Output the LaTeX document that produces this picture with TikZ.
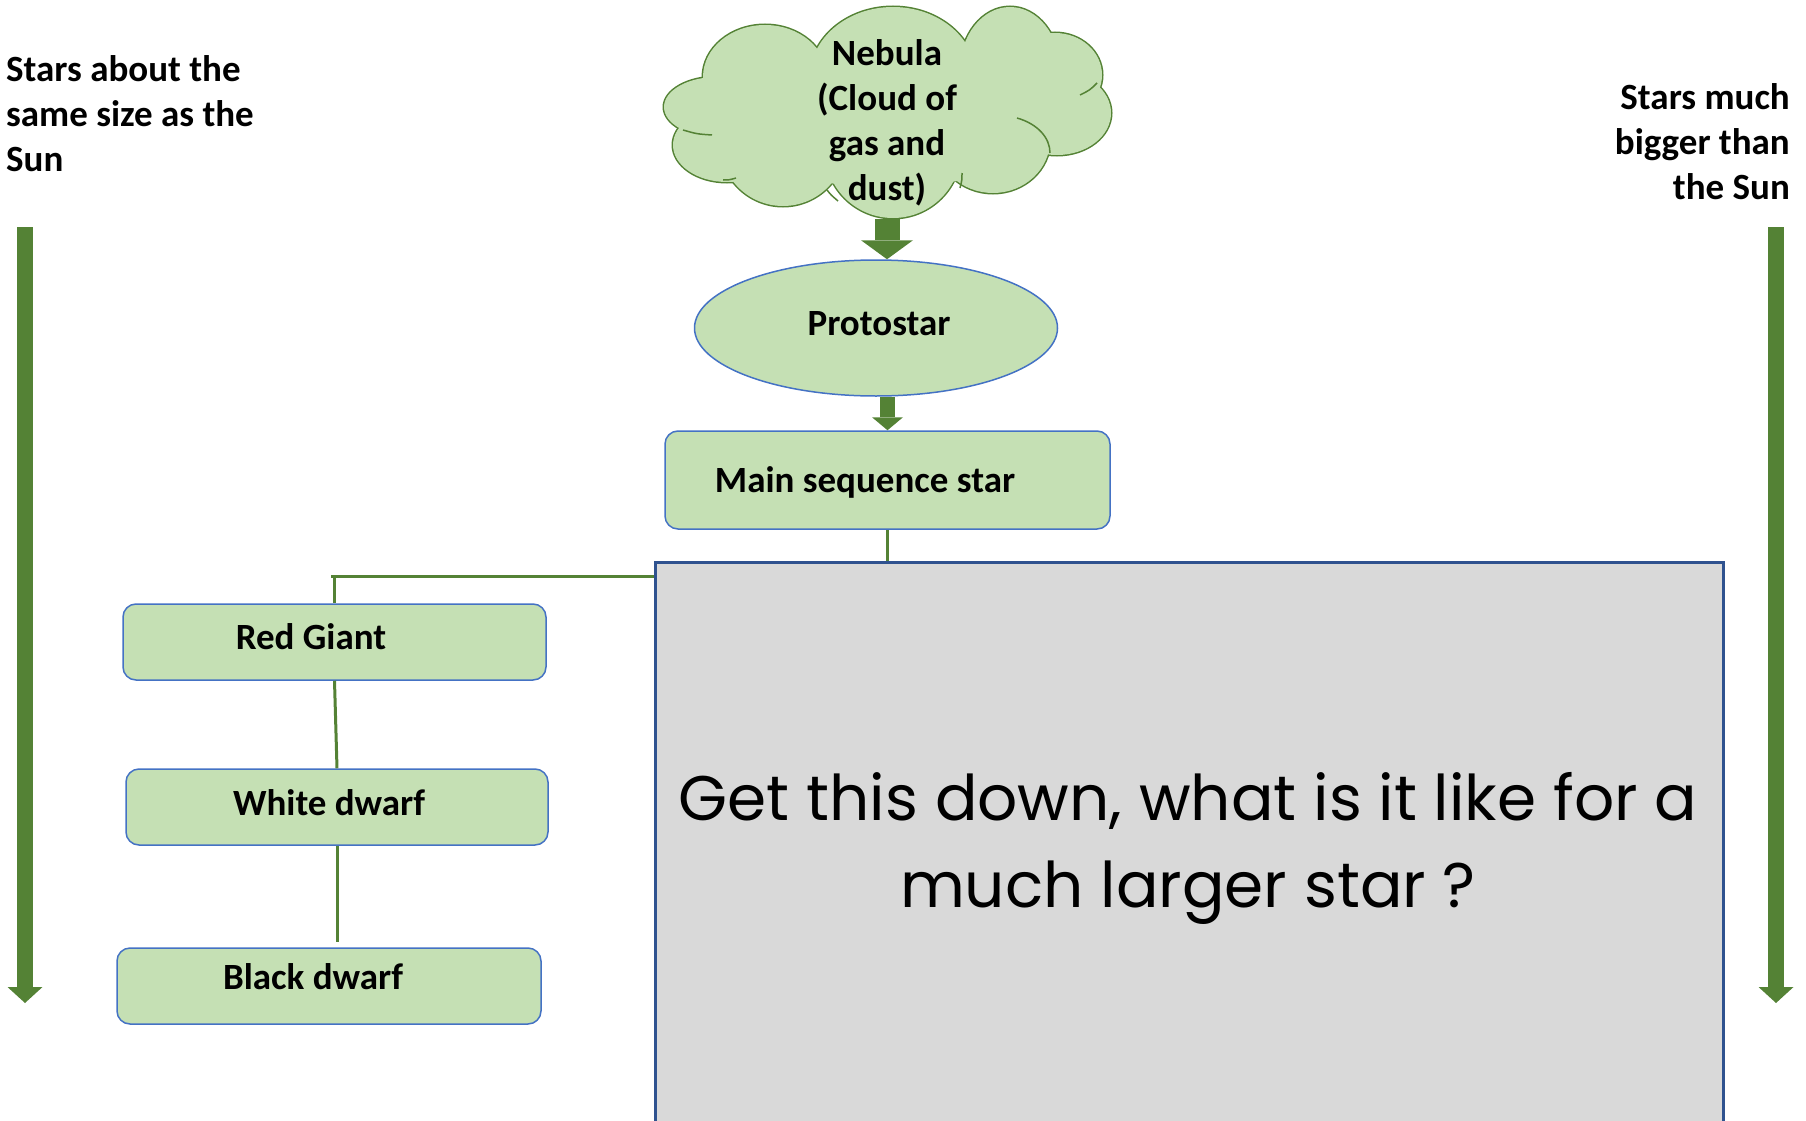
\documentclass[tikz,border=0pt]{standalone}
\usepackage{fontspec}
\setmainfont{Carlito}
\newfontfamily\comicfont{Poppins}
\usetikzlibrary{shapes.geometric,arrows.meta,calc}
\definecolor{lgreen}{HTML}{C5E0B4}
\definecolor{dgreen}{HTML}{548235}
\definecolor{bblue}{HTML}{4472C4}
\definecolor{gfill}{HTML}{D9D9D9}
\definecolor{gbord}{HTML}{2F528F}
\tikzset{
  lbl/.style={font=\bfseries\fontsize{37pt}{45pt}\selectfont, inner sep=0pt, align=center},
  stagebox/.style={draw=bblue, line width=1.5pt, fill=lgreen, rounded corners=13pt, inner sep=0pt},
  conn/.style={draw=dgreen, line width=3pt},
  bigarrow/.style={draw=dgreen, line width=16pt, -{Triangle[length=16pt,width=35pt,line width=0pt]}},
  arrowA/.style={draw=dgreen, line width=25pt, -{Triangle[length=19pt,width=52pt,line width=0pt]}},
  arrowB/.style={draw=dgreen, line width=15pt, -{Triangle[length=13pt,width=31pt,line width=0pt]}},
}
\begin{document}
\begin{tikzpicture}[x=1pt,y=-1pt]
\useasboundingbox (0,0) rectangle (1806,1121);
% side texts
\node[lbl, align=left, anchor=north west] (lefttxt) at (6,55) {Stars about the\\same size as the\\Sun};
\node[lbl, align=right, anchor=north east] (righttxt) at (1790,83) {Stars much\\bigger than\\the Sun};
\coordinate (la1) at (25,227);
\coordinate (la2) at (25,1003);
\coordinate (ra1) at (1776,227);
\coordinate (ra2) at (1776,1003);
\draw[bigarrow] (la1) -- (la2);
\draw[bigarrow] (ra1) -- (ra2);
% cloud
\begin{scope}
\foreach \cx/\cy/\rx/\ry in {765/77/62/52, 893/77/83/70, 1010/70/50/63, 1055/75/47/42, 1057/113/54/42, 993/140/57/53, 893/150/68/68, 783/143/63/63, 727/145/54/37, 717/107/53/30}
  \draw[dgreen, line width=3pt, fill=lgreen] (\cx,\cy) ellipse [x radius=\rx, y radius=\ry];
\fill[lgreen] (887,115) ellipse [x radius=175, y radius=72];
\foreach \cx/\cy/\rx/\ry in {765/77/62/52, 893/77/83/70, 1010/70/50/63, 1055/75/47/42, 1057/113/54/42, 993/140/57/53, 893/150/68/68, 783/143/63/63, 727/145/54/37, 717/107/53/30}
  \fill[lgreen] (\cx,\cy) ellipse [x radius=\rx, y radius=\ry];
\draw[dgreen, line width=1.5pt] (1017,118) .. controls (1038,124) and (1050,138) .. (1050,153);
\draw[dgreen, line width=1.5pt] (827,190) .. controls (831,195) .. (838,201);
\draw[dgreen, line width=1.5pt] (962,173) .. controls (962,180) .. (960,188);
\draw[dgreen, line width=1.5pt] (723,180) .. controls (729,180) .. (736,178);
\draw[dgreen, line width=1.5pt] (683,130) .. controls (697,134) .. (712,135);
\draw[dgreen, line width=1.5pt] (1080,95) .. controls (1090,90) .. (1097,83);
\end{scope}
\node[lbl] (nebula) at (887,123) {Nebula\\(Cloud of\\gas and\\dust)};
\coordinate (nebbot) at (887,219);
% protostar
\node[ellipse, draw=bblue, line width=1.5pt, fill=lgreen, minimum width=363pt, minimum height=136pt, inner sep=0pt] (proto) at (876,328) {};
\node[lbl] (protot) at (879,324) {Protostar};
% main sequence
\node[stagebox, minimum width=445pt, minimum height=98pt] (ms) at (887.5,480) {};
\node[lbl] (mst) at (865,482) {Main sequence star};
\draw[arrowA] (nebbot) -- (nebbot |- proto.north);
\draw[arrowB] (ms.north |- proto.south) -- (ms.north);
% grey box
\node[draw=gbord, line width=3pt, fill=gfill, minimum width=1068pt, minimum height=600pt, anchor=north west, inner sep=0pt] (q) at (654,561) {};
\node[font=\comicfont\fontsize{63pt}{87pt}\selectfont, align=center, inner sep=0pt] (qt) at (1188,848) {Get this down, what is it like for a\\much larger star ?};
% left chain
\node[stagebox, minimum width=423pt, minimum height=76pt] (rg) at (334.5,642) {};
\node[lbl] (rgt) at (311,637) {Red Giant};
\node[stagebox, minimum width=422pt, minimum height=76pt] (wd) at (337,807) {};
\node[lbl] (wdt) at (329,803) {White dwarf};
\node[stagebox, minimum width=424pt, minimum height=76pt] (bd) at (329,986) {};
\node[lbl] (bdt) at (313,977) {Black dwarf};
\coordinate (split) at (331,576);
\draw[conn] (ms.south) -- (ms.south |- q.north);
\draw[conn] (q.west |- split) -- (split);
\draw[conn] (rg.north |- split) -- (rg.north);
\draw[conn] (rg.south) -- (wd.north);
\draw[conn, shorten >=5pt] (wd.south) -- (wd.south |- bd.north);
\end{tikzpicture}
\end{document}
